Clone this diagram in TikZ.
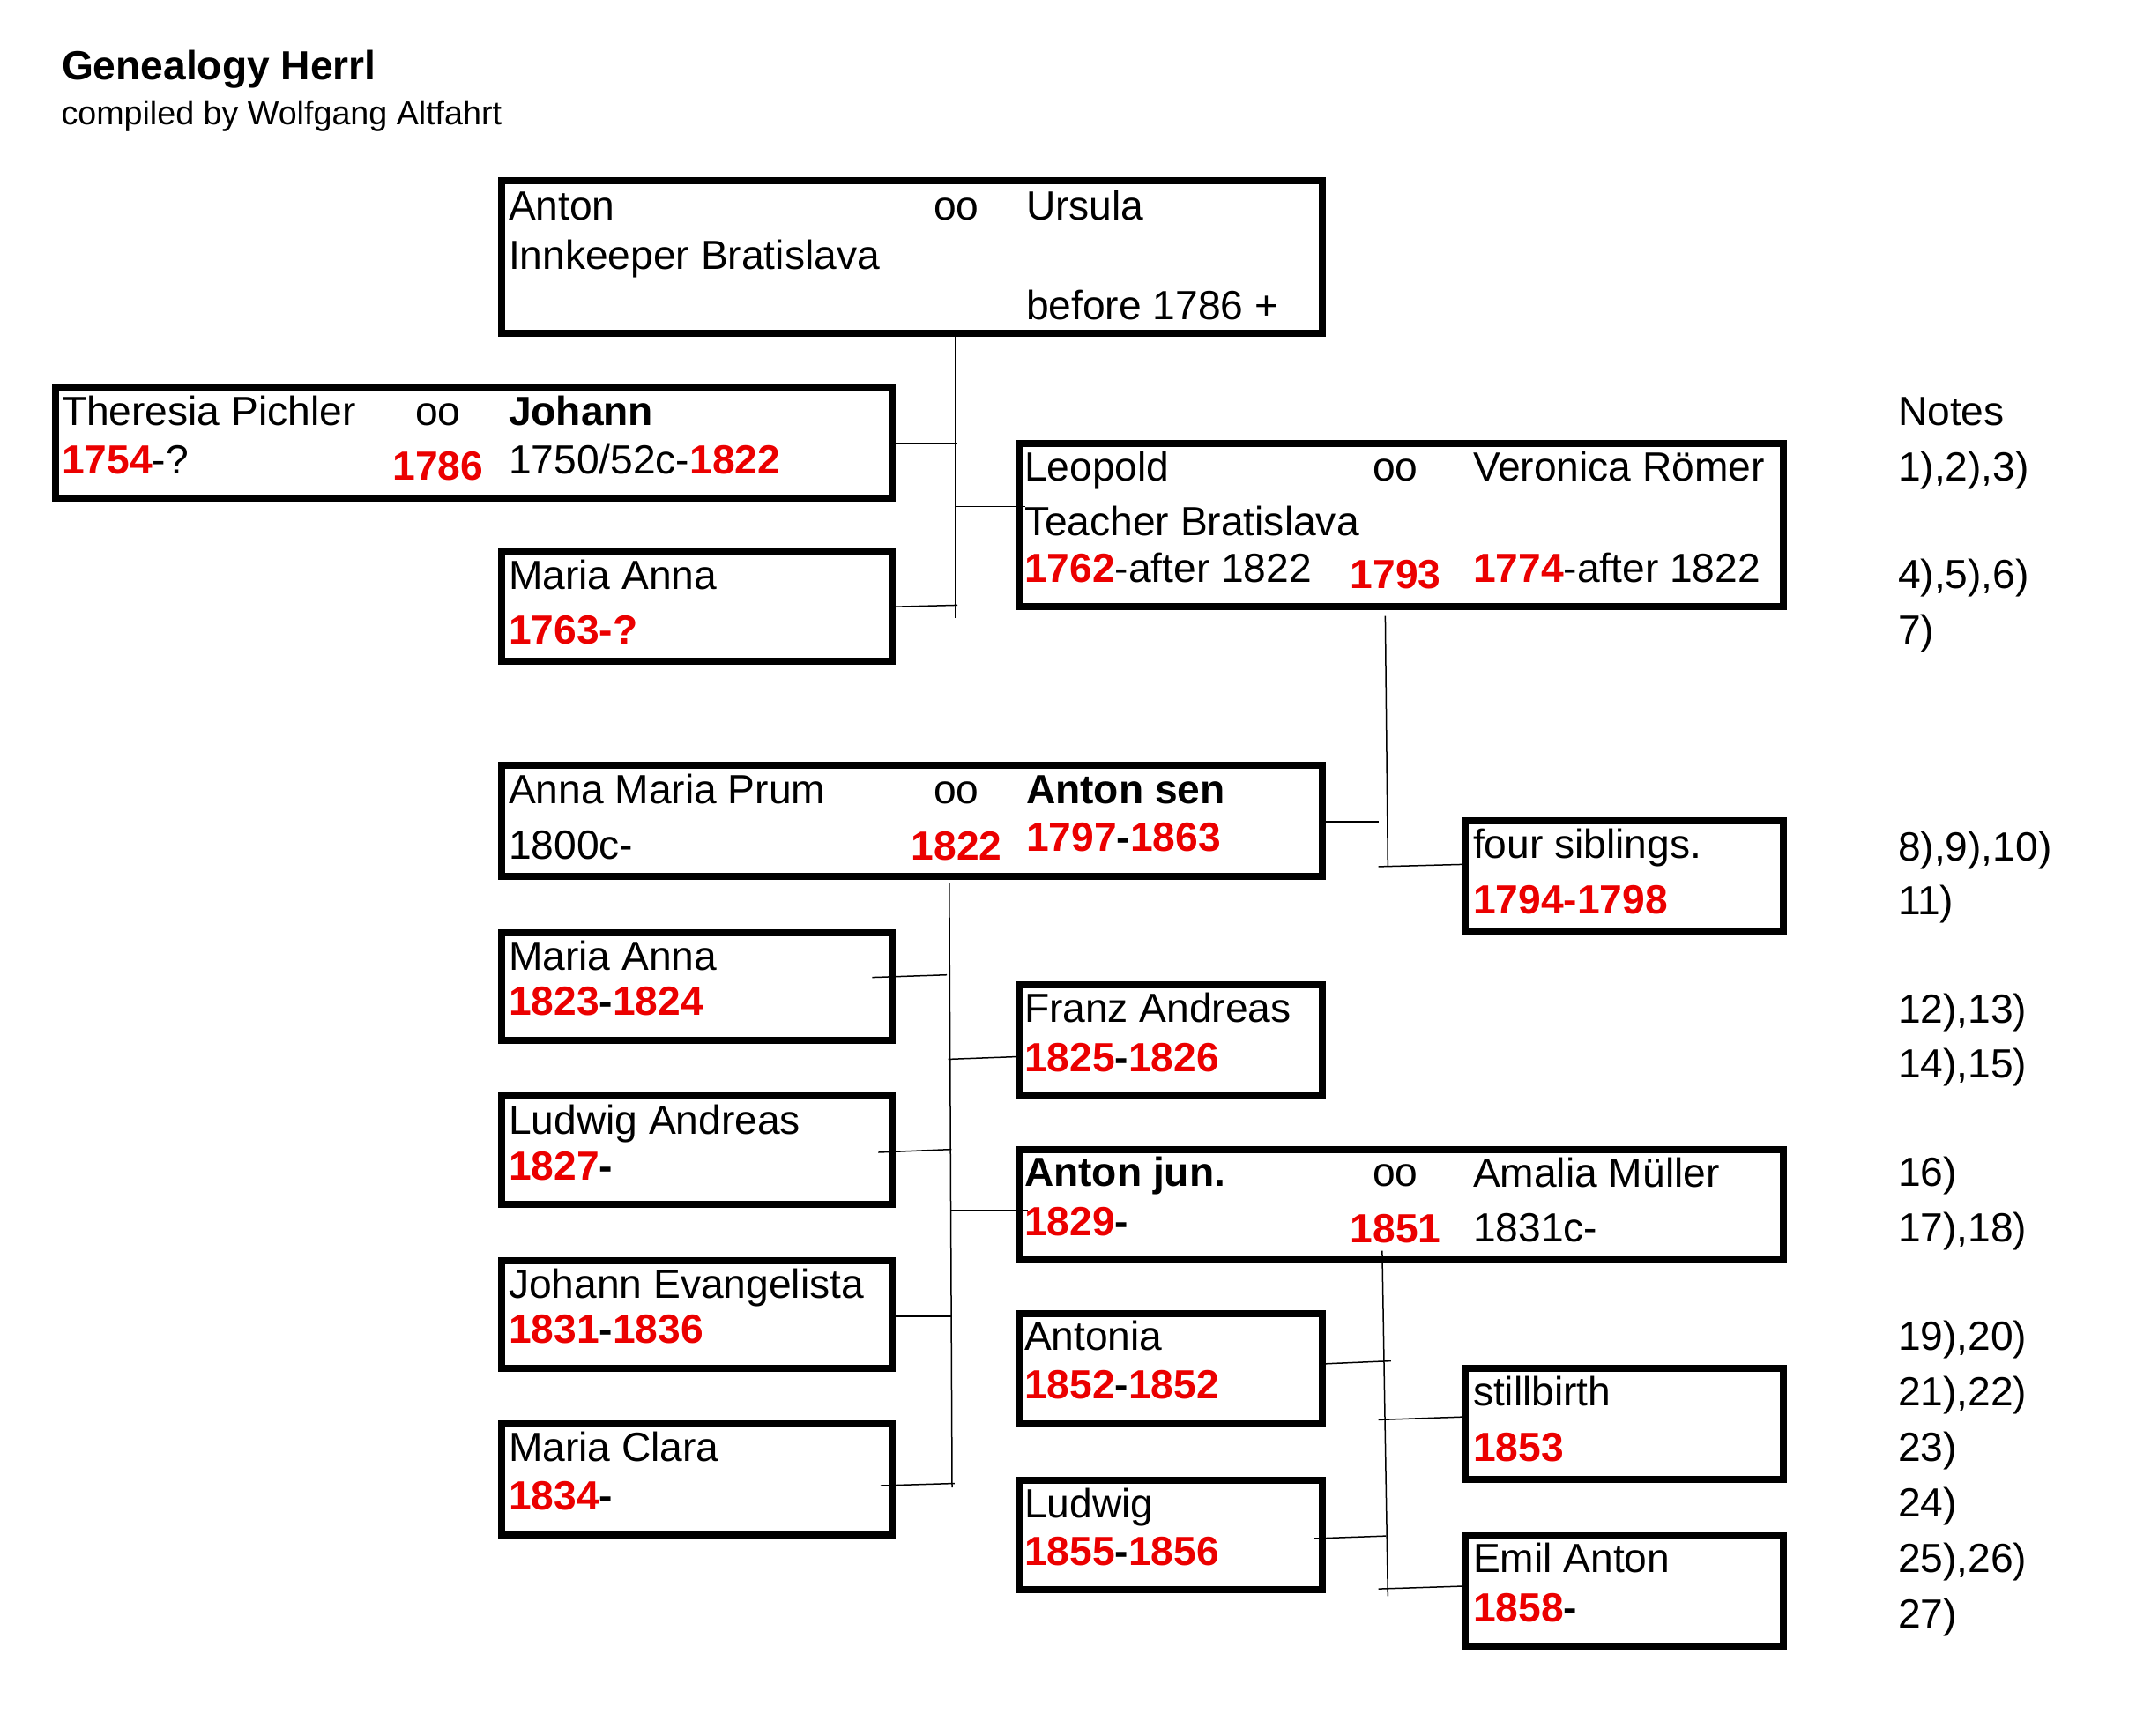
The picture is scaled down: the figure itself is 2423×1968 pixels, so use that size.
\documentclass[tikz,border=0pt]{standalone}
\usepackage{fontspec}
\setmainfont{Liberation Sans}
\usetikzlibrary{fit}
\definecolor{dred}{RGB}{235,0,0}
\newcommand\rdb[1]{\textbf{\textcolor{dred}{#1}}}
\begin{document}
\begin{tikzpicture}[x=0.3pt,y=-0.3pt,
  box/.style={draw, line width=2.4pt, inner sep=0pt, outer sep=0pt, rectangle},
  txt/.style={anchor=base west, inner sep=0pt, outer sep=0pt, font=\fontsize{13.85}{16}\selectfont},
  dat/.style={anchor=base, inner sep=0pt, outer sep=0pt, font=\fontsize{13.85}{16}\selectfont\bfseries, text=dred},
  con/.style={line width=0.45pt}]
\useasboundingbox (0,0) rectangle (2423,1968);
\fill[white] (0,0) rectangle (2423,1968);

% title
\node[txt, font=\fontsize{13.85}{16}\selectfont\bfseries] (title) at (70,90.5) {Genealogy Herrl};
\node[txt, font=\fontsize{11.3}{14}\selectfont] (subtitle) at (69.5,141.4) {compiled by Wolfgang Altfahrt};

% boxes
\node[box, fit={(569,205) (1500,378)}] (A0) {};
\node[box, fit={(62.5,440) (1012,564.6)}] (J) {};
\node[box, fit={(569,625.4) (1012,750)}] (MA1) {};
\node[box, fit={(1155.7,503) (2022.7,687.5)}] (L) {};
\node[box, fit={(569,868) (1500,993.5)}] (AM) {};
\node[box, fit={(1662.3,931) (2022.7,1056)}] (FS) {};
\node[box, fit={(569,1057.5) (1012,1179.6)}] (MA2) {};
\node[box, fit={(1155.7,1117) (1500,1243)}] (FA) {};
\node[box, fit={(569,1243) (1012,1365.5)}] (LA) {};
\node[box, fit={(1155.7,1304) (2022.7,1429)}] (AJ) {};
\node[box, fit={(569,1429.6) (1012,1551.8)}] (JE) {};
\node[box, fit={(1155.7,1489.6) (1500,1614.6)}] (AT) {};
\node[box, fit={(1662.3,1552) (2022.7,1678)}] (SB) {};
\node[box, fit={(569,1615.4) (1012,1740.7)}] (MC) {};
\node[box, fit={(1155.7,1679) (1500,1803.4)}] (LW) {};
\node[box, fit={(1662.3,1741.5) (2022.7,1866.5)}] (EA) {};

% texts: Anton / Ursula
\node[txt] (a01) at (577,249.6) {Anton};
\node[txt] (a02) at (1059,249.6) {oo};
\node[txt] (a03) at (1164,249.6) {Ursula};
\node[txt] (a04) at (577,305.7) {Innkeeper Bratislava};
\node[txt] (a05) at (1164,362) {before 1786 +};

% Theresia / Johann
\node[txt] (j1) at (70,482.5) {Theresia Pichler};
\node[txt] (j2) at (471,482.5) {oo};
\node[txt] (j3) at (577,482.5) {\textbf{Johann}};
\node[txt] (j4) at (70,537.1) {\rdb{1754}-?};
\node[dat] (j5) at (497,544.3) {1786};
\node[txt] (j6) at (577,537.1) {1750/52c-\rdb{1822}};

% Maria Anna 1763
\node[txt] (m1) at (577,668) {Maria Anna};
\node[txt] (m2) at (577,730.7) {\rdb{1763-?}};

% Leopold
\node[txt] (l1) at (1162,545) {Leopold};
\node[txt] (l2) at (1557,545) {oo};
\node[txt] (l3) at (1671,545) {Veronica Römer};
\node[txt] (l4) at (1162,607.9) {Teacher Bratislava};
\node[txt] (l5) at (1162,660.4) {\rdb{1762}-after 1822};
\node[dat] (l6) at (1583,667.5) {1793};
\node[txt] (l7) at (1671,660.4) {\rdb{1774}-after 1822};

% Anna Maria Prum / Anton sen
\node[txt] (p1) at (577,911.4) {Anna Maria Prum};
\node[txt] (p2) at (1059,911.4) {oo};
\node[txt] (p3) at (1164,911.4) {\textbf{Anton sen}};
\node[txt] (p4) at (577,974) {1800c-};
\node[dat] (p5) at (1085,975) {1822};
\node[txt] (p6) at (1164,965.7) {\rdb{1797}\textbf{-}\rdb{1863}};

% four siblings
\node[txt] (f1) at (1671,973.7) {four siblings.};
\node[txt] (f2) at (1671,1036) {\rdb{1794-1798}};

% children of Anton sen
\node[txt] (c1) at (577,1100.7) {Maria Anna};
\node[txt] (c2) at (577,1151.8) {\rdb{1823}\textbf{-}\rdb{1824}};
\node[txt] (c3) at (1162,1159.6) {Franz Andreas};
\node[txt] (c4) at (1162,1215) {\rdb{1825}\textbf{-}\rdb{1826}};
\node[txt] (c5) at (577,1286.4) {Ludwig Andreas};
\node[txt] (c6) at (577,1338.2) {\rdb{1827}\textbf{-}};
\node[txt] (c7) at (1162,1345.4) {\textbf{Anton jun.}};
\node[txt] (c8) at (1557,1345.4) {oo};
\node[txt] (c9) at (1671,1346) {Amalia Müller};
\node[txt] (c10) at (1162,1401.4) {\rdb{1829}\textbf{-}};
\node[dat] (c11) at (1583,1409) {1851};
\node[txt] (c12) at (1671,1408.5) {1831c-};
\node[txt] (c13) at (577,1472.9) {Johann Evangelista};
\node[txt] (c14) at (577,1523.6) {\rdb{1831}\textbf{-}\rdb{1836}};
\node[txt] (c15) at (577,1657.9) {Maria Clara};
\node[txt] (c16) at (577,1712.9) {\rdb{1834}\textbf{-}};

% children of Anton jun
\node[txt] (g1) at (1162,1531.8) {Antonia};
\node[txt] (g2) at (1162,1586.4) {\rdb{1852}\textbf{-}\rdb{1852}};
\node[txt] (g3) at (1671,1594.6) {stillbirth};
\node[txt] (g4) at (1671,1657.1) {\rdb{1853}};
\node[txt] (g5) at (1162,1721) {Ludwig};
\node[txt] (g6) at (1162,1775.7) {\rdb{1855}\textbf{-}\rdb{1856}};
\node[txt] (g7) at (1671,1783.5) {Emil Anton};
\node[txt] (g8) at (1671,1839.3) {\rdb{1858}\textbf{-}};

% notes
\node[txt] (n0) at (2153,482.5) {Notes};
\node[txt] (n1) at (2153,545) {1),2),3)};
\node[txt] (n2) at (2153,667) {4),5),6)};
\node[txt] (n3) at (2153,730) {7)};
\node[txt] (n4) at (2153,976) {8),9),10)};
\node[txt] (n5) at (2153,1037) {11)};
\node[txt] (n6) at (2153,1160) {12),13)};
\node[txt] (n7) at (2153,1222) {14),15)};
\node[txt] (n8) at (2153,1345) {16)};
\node[txt] (n9) at (2153,1408) {17),18)};
\node[txt] (n10) at (2153,1531) {19),20)};
\node[txt] (n11) at (2153,1594) {21),22)};
\node[txt] (n12) at (2153,1657) {23)};
\node[txt] (n13) at (2153,1720) {24)};
\node[txt] (n14) at (2153,1783) {25),26)};
\node[txt] (n15) at (2153,1846) {27)};

% connector coordinates
\coordinate (v1a) at (1083.6,381);
\coordinate (v1b) at (1083.6,700.7);
\coordinate (cJa) at (1012,503.2);
\coordinate (cJb) at (1086.4,503.2);
\coordinate (cLa) at (1083.6,574.6);
\coordinate (cLb) at (1162.5,574.6);
\coordinate (cMa) at (1015,688.2);
\coordinate (cMb) at (1086,686.4);

\coordinate (v2a) at (1571.4,698.6);
\coordinate (v2b) at (1574.3,982.1);
\coordinate (cPa) at (1503,932.1);
\coordinate (cPb) at (1564.3,932.1);
\coordinate (cFa) at (1563.6,982.9);
\coordinate (cFb) at (1658.9,980.4);

\coordinate (v3a) at (1076.8,1001.4);
\coordinate (v3b) at (1080,1687.1);
\coordinate (k1a) at (989.3,1108.6);
\coordinate (k1b) at (1074,1105.7);
\coordinate (k2a) at (1075.7,1201.4);
\coordinate (k2b) at (1151.8,1198.6);
\coordinate (k3a) at (996.4,1307);
\coordinate (k3b) at (1079.3,1303.6);
\coordinate (k4a) at (1078,1372.9);
\coordinate (k4b) at (1166,1372.9);
\coordinate (k5a) at (1008,1493.2);
\coordinate (k5b) at (1078.6,1493.2);
\coordinate (k6a) at (998.9,1685);
\coordinate (k6b) at (1082.9,1682.5);

\coordinate (v4a) at (1567.9,1418.6);
\coordinate (v4b) at (1574.3,1810.4);
\coordinate (h1a) at (1503.6,1546.8);
\coordinate (h1b) at (1577.9,1543.6);
\coordinate (h2a) at (1563.6,1610.4);
\coordinate (h2b) at (1660,1607.1);
\coordinate (h3a) at (1490,1745);
\coordinate (h3b) at (1572.1,1742.1);
\coordinate (h4a) at (1563.6,1802.1);
\coordinate (h4b) at (1660,1799);

% connectors
\draw[con] (v1a) -- (v1b);
\draw[con] (cJa) -- (cJb);
\draw[con] (cLa) -- (cLb);
\draw[con] (cMa) -- (cMb);
\draw[con] (v2a) -- (v2b);
\draw[con] (cPa) -- (cPb);
\draw[con] (cFa) -- (cFb);
\draw[con] (v3a) -- (v3b);
\draw[con] (k1a) -- (k1b);
\draw[con] (k2a) -- (k2b);
\draw[con] (k3a) -- (k3b);
\draw[con] (k4a) -- (k4b);
\draw[con] (k5a) -- (k5b);
\draw[con] (k6a) -- (k6b);
\draw[con] (v4a) -- (v4b);
\draw[con] (h1a) -- (h1b);
\draw[con] (h2a) -- (h2b);
\draw[con] (h3a) -- (h3b);
\draw[con] (h4a) -- (h4b);
\end{tikzpicture}
\end{document}
